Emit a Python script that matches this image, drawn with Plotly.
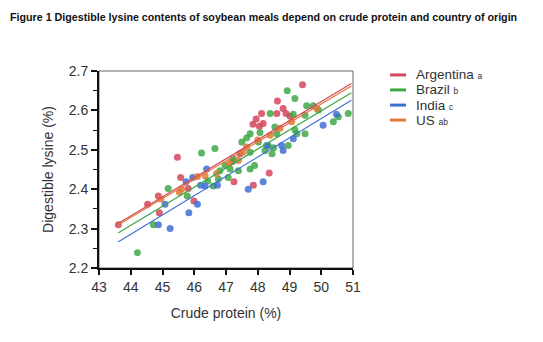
import plotly.graph_objects as go

countries = ["Argentina", "Brazil", "India", "US"]
legend_names = ["Argentina", "Brazil", "India", "US"]
legend_marks = ["a", "b", "c", "ab"]
colors = ["#d4475c", "#3ea846", "#3f6fd2", "#e07a3c"]

arg_x = [43.61, 44.53, 44.87, 44.90, 45.47, 45.57, 45.81, 45.99, 47.20, 47.25, 47.44, 47.86,
         48.36, 47.85, 47.95, 48.05, 48.12, 48.17, 48.60, 48.62, 48.80, 48.89, 49.02, 49.41]
arg_y = [2.310, 2.362, 2.383, 2.340, 2.481, 2.430, 2.402, 2.370, 2.470, 2.419, 2.490, 2.410,
         2.441, 2.565, 2.578, 2.560, 2.592, 2.567, 2.592, 2.624, 2.605, 2.592, 2.585, 2.665]

bra_x = [44.21, 44.71, 45.18, 45.78, 46.23, 46.42, 46.60, 46.65, 46.76, 46.81, 46.97, 47.07,
         47.13, 47.23, 47.39, 47.50, 47.65, 47.76, 47.76, 47.76, 47.90, 48.02, 48.07, 48.23,
         48.33, 48.39, 48.45, 48.50, 48.54, 48.60, 48.93, 48.96, 49.12, 49.17, 49.17, 49.23,
         49.49, 49.49, 49.54, 49.75, 49.91, 50.38, 50.54, 50.85]
bra_y = [2.239, 2.310, 2.402, 2.383, 2.492, 2.421, 2.408, 2.503, 2.426, 2.447, 2.460, 2.430,
         2.451, 2.477, 2.447, 2.520, 2.530, 2.451, 2.494, 2.541, 2.460, 2.520, 2.544, 2.498,
         2.511, 2.592, 2.490, 2.505, 2.558, 2.541, 2.650, 2.511, 2.590, 2.630, 2.551, 2.541,
         2.588, 2.541, 2.612, 2.612, 2.601, 2.571, 2.584, 2.592]

ind_x = [44.87, 45.08, 45.24, 45.74, 45.83, 45.95, 46.10, 46.20, 46.34, 46.39, 46.73, 47.70,
         48.17, 48.28, 48.75, 48.80, 49.12, 50.06, 50.48]
ind_y = [2.310, 2.362, 2.300, 2.419, 2.340, 2.430, 2.362, 2.410, 2.408, 2.451, 2.410, 2.400,
         2.419, 2.511, 2.511, 2.498, 2.528, 2.562, 2.590]

us_x = [44.95, 45.53, 45.60, 46.10, 46.34, 46.70, 47.10, 47.39, 47.54, 47.65, 48.00, 48.39,
        48.70, 49.07, 49.86]
us_y = [2.375, 2.392, 2.400, 2.432, 2.434, 2.440, 2.465, 2.473, 2.494, 2.507, 2.525, 2.537,
        2.555, 2.571, 2.605]

fit_x = [43.6, 50.95]
fit_y = {
    "Argentina": [2.313, 2.668],
    "Brazil": [2.289, 2.645],
    "India": [2.266, 2.626],
    "US": [2.309, 2.662],
}

points = {
    "Argentina": (arg_x, arg_y),
    "Brazil": (bra_x, bra_y),
    "India": (ind_x, ind_y),
    "US": (us_x, us_y),
}

x_ticks = [43, 44, 45, 46, 47, 48, 49, 50, 51]
y_ticks = [2.2, 2.3, 2.4, 2.5, 2.6, 2.7]

fig = go.Figure()

for c, col in zip(countries, colors):
    px, py = points[c]
    fig.add_trace(go.Scatter(x=px, y=py, mode="markers",
                             marker=dict(size=7, color=col, opacity=0.85, line=dict(width=0)),
                             showlegend=False, name=c))
for c, col in zip(countries, colors):
    fig.add_trace(go.Scatter(x=fit_x, y=fit_y[c], mode="lines",
                             line=dict(color=col, width=1.2), showlegend=False, name=c))

font_family = "Liberation Sans, Arial, sans-serif"

# frame (thin grey box)
fig.add_shape(type="rect", xref="x domain", yref="y domain", x0=0, x1=1, y0=0, y1=1,
              line=dict(color="#666666", width=1), layer="below")

# manual legend
legend_rows_y = [0.980, 0.904, 0.827, 0.751]
for name, mark, col, ly in zip(legend_names, legend_marks, colors, legend_rows_y):
    fig.add_shape(type="line", xref="paper", yref="paper", x0=1.146, x1=1.209, y0=ly, y1=ly,
                  line=dict(color=col, width=3))
    fig.add_annotation(xref="paper", yref="paper", x=1.240, y=ly,
                       text=f"{name} <span style='font-size:8.5px'>{mark}</span>",
                       showarrow=False, xanchor="left", yanchor="middle",
                       font=dict(family=font_family, size=13.5, color="#333333"))

fig.add_annotation(xref="paper", yref="paper", x=-0.358, y=1.274,
                   text="<b>Figure 1 Digestible lysine contents of soybean meals depend on crude protein and country of origin</b>",
                   showarrow=False, xanchor="left", yanchor="middle",
                   font=dict(family=font_family, size=10.7, color="#111111"))

fig.update_layout(
    width=543, height=342,
    margin=dict(l=99, r=190, t=71, b=74),
    paper_bgcolor="white", plot_bgcolor="white",
    font=dict(family=font_family, size=14, color="#333333"),
    showlegend=False,
)
fig.update_xaxes(range=[43, 51], tickvals=x_ticks, ticktext=[str(v) for v in x_ticks],
                 showgrid=False, zeroline=False, showline=True, linecolor="#111111", linewidth=2,
                 ticks="outside", ticklen=5, tickwidth=1.5, tickcolor="#111111",
                 tickfont=dict(size=14, color="#333333"),
                 title=dict(text="Crude protein (%)", font=dict(size=14, color="#333333"), standoff=14))
fig.update_yaxes(range=[2.2, 2.7], tickvals=y_ticks, ticktext=[f"{v:.1f}" for v in y_ticks],
                 showgrid=False, zeroline=False, showline=True, linecolor="#111111", linewidth=2,
                 ticks="outside", ticklen=6, tickwidth=1.5, tickcolor="#111111",
                 minor=dict(dtick=0.05, ticks="outside", ticklen=4, tickwidth=1, tickcolor="#111111"),
                 tickfont=dict(size=14, color="#333333"),
                 title=dict(text="Digestible lysine (%)", font=dict(size=14, color="#333333"), standoff=12))

fig.write_html("out.html")
